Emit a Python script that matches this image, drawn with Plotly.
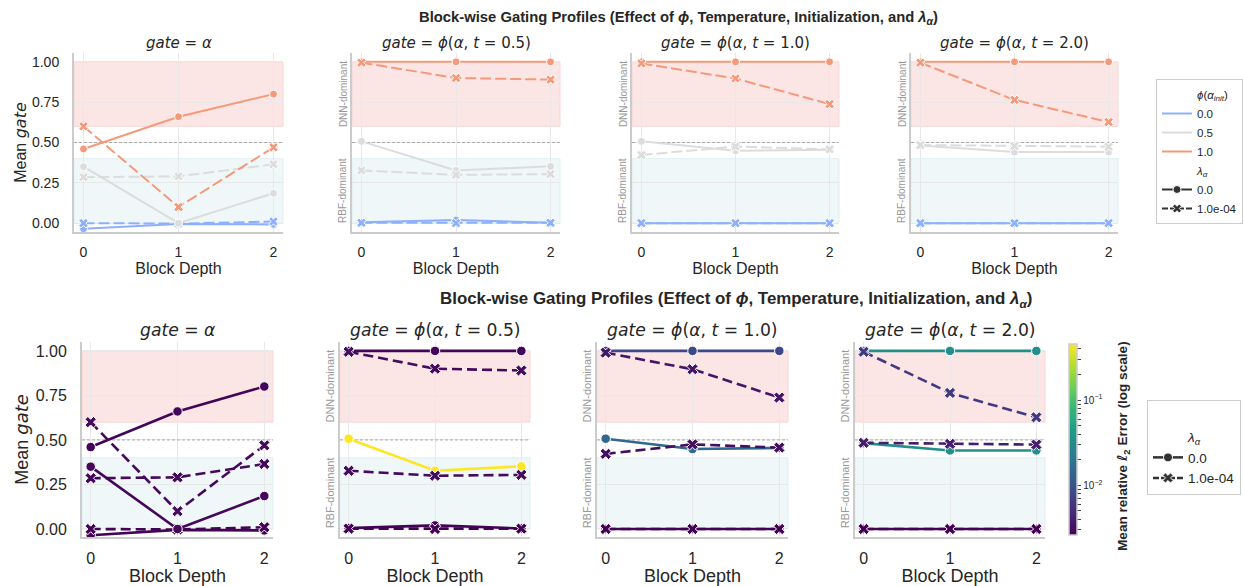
import numpy as np
import plotly.graph_objects as go
from plotly.colors import sample_colorscale

W, H = 1243, 586

# ---------------- data ----------------
depth = [0, 1, 2]
phi_init_labels = ["0.0", "0.5", "1.0"]
lambda_labels = ["0.0", "1.0e-04"]
panel_gates = ["α", "ϕ(α, t = 0.5)", "ϕ(α, t = 1.0)", "ϕ(α, t = 2.0)"]
y_ticks = [0, 0.25, 0.5, 0.75, 1.0]
gate_threshold = 0.5

# Mean gate per block depth; rows = φ(α_init) 0.0, 0.5, 1.0
gate_alpha_lam0 = [[-0.035, -0.005, -0.008], [0.35, 0.0, 0.185], [0.46, 0.66, 0.80]]
gate_alpha_lam1 = [[0.0, -0.003, 0.01], [0.285, 0.29, 0.365], [0.60, 0.10, 0.47]]
gate_t05_lam0 = [[0.005, 0.02, 0.003], [0.507, 0.327, 0.352], [1.0, 1.0, 1.0]]
gate_t05_lam1 = [[0.002, 0.0, 0.002], [0.327, 0.299, 0.304], [0.995, 0.90, 0.89]]
gate_t10_lam0 = [[0.0, 0.0, 0.0], [0.507, 0.449, 0.455], [1.0, 1.0, 1.0]]
gate_t10_lam1 = [[0.0, 0.0, 0.0], [0.422, 0.475, 0.457], [0.99, 0.897, 0.738]]
gate_t20_lam0 = [[0.0, 0.0, 0.0], [0.482, 0.441, 0.441], [1.0, 1.0, 1.0]]
gate_t20_lam1 = [[0.0, 0.0, 0.0], [0.484, 0.478, 0.474], [0.995, 0.764, 0.627]]

# Mean relative l2 error per line; order = φ(α_init) 0.0, 0.5, 1.0
err_alpha_lam0 = [0.0027, 0.0029, 0.0028]
err_alpha_lam1 = [0.0027, 0.0029, 0.0030]
err_t05_lam0 = [0.0027, 0.457, 0.0028]
err_t05_lam1 = [0.0026, 0.0030, 0.0030]
err_t10_lam0 = [0.0027, 0.0150, 0.0080]
err_t10_lam1 = [0.0026, 0.0032, 0.0035]
err_t20_lam0 = [0.0027, 0.033, 0.034]
err_t20_lam1 = [0.0026, 0.0039, 0.0062]

gates = [(gate_alpha_lam0, gate_alpha_lam1), (gate_t05_lam0, gate_t05_lam1),
         (gate_t10_lam0, gate_t10_lam1), (gate_t20_lam0, gate_t20_lam1)]
errs = [(err_alpha_lam0, err_alpha_lam1), (err_t05_lam0, err_t05_lam1),
        (err_t10_lam0, err_t10_lam1), (err_t20_lam0, err_t20_lam1)]

# ---------------- style ----------------
phi_colors = ["#8db0fe", "#dddcdc", "#f49a7b"]
TXT = "#262626"
SANS = "Liberation Sans, Arial, sans-serif"
MATH = "DejaVu Sans"
SPINE = "#cccccc"
GRID = "#e8e8e8"
X_RANGE = [-0.1, 2.1]

top_x = [(74, 283), (352, 560), (632, 839), (911, 1118)]
top_y = (53, 232)
bot_x = [(82, 273), (340, 530), (597, 788), (855, 1045)]
bot_y = (342, 537)

all_err = [e for pair in errs for lst in pair for e in lst]
lmin, lmax = np.log10(min(all_err)), np.log10(max(all_err))


def viridis(e):
    f = (np.log10(e) - lmin) / (lmax - lmin)
    return sample_colorscale("Viridis", [float(np.clip(f, 0, 1))])[0]


fig = go.Figure()

for row in range(2):
    lw = 2.0 if row == 0 else 2.6
    ms = 8 if row == 0 else 9.5
    dash = "11px,4px" if row == 0 else "10px,5px"
    for p in range(4):
        k = row * 4 + p + 1
        xa = "x" if k == 1 else f"x{k}"
        ya = "y" if k == 1 else f"y{k}"
        # 0.5 reference threshold line across the axis
        fig.add_trace(go.Scatter(
            x=X_RANGE, y=[gate_threshold] * 2, xaxis=xa, yaxis=ya, mode="lines",
            showlegend=False, hoverinfo="skip", cliponaxis=True,
            line=dict(color="#aaaaaa", width=1, dash="3px,2px"),
        ))
        for i in range(3):
            for j in range(2):
                col = phi_colors[i] if row == 0 else viridis(errs[p][j][i])
                fig.add_trace(go.Scatter(
                    x=depth, y=gates[p][j][i], xaxis=xa, yaxis=ya,
                    mode="lines+markers", showlegend=False, hoverinfo="skip",
                    line=dict(color=col, width=lw, dash="solid" if j == 0 else dash),
                    marker=dict(symbol="circle" if j == 0 else "x", size=ms if j == 0 else ms + 0.5,
                                color=col, line=dict(color="white", width=1)),
                ))

# colorbar carrier
fig.add_trace(go.Scatter(
    x=[None, None], y=[None, None], xaxis="x8", yaxis="y8", mode="markers",
    showlegend=False, hoverinfo="skip",
    marker=dict(color=[lmin, lmax], coloraxis="coloraxis"),
))

# ---------------- legends ----------------
def dummy(name, legend, color="rgba(0,0,0,0)", dash="solid", symbol=None, width=2, size=8):
    mode = "lines" if symbol is None else "lines+markers"
    fig.add_trace(go.Scatter(
        x=[None], y=[None], mode=mode, name=name, legend=legend, showlegend=True,
        line=dict(color=color, width=width, dash=dash),
        marker=dict(symbol=symbol or "circle", size=size, color=color,
                    line=dict(color="white", width=1)),
    ))

dummy("<i>ϕ</i>(<i>α<sub>init</sub></i>)", "legend")
for lab, c in zip(phi_init_labels, phi_colors):
    dummy(lab, "legend", color=c)
dummy("<i>λ<sub>α</sub></i>", "legend")
dummy(lambda_labels[0], "legend", color="#333333", symbol="circle")
dummy(lambda_labels[1], "legend", color="#333333", dash="6px,2px", symbol="x")

dummy("\u00a0", "legend2")
dummy("<i>λ<sub>α</sub></i>", "legend2")
dummy(lambda_labels[0], "legend2", color="#333333", symbol="circle", width=2.5, size=9)
dummy(lambda_labels[1], "legend2", color="#333333", dash="6px,2px", symbol="x", width=2.5, size=9)

# ---------------- axes, bands, annotations ----------------
layout = dict(
    width=W, height=H,
    margin=dict(l=0, r=0, t=0, b=0, autoexpand=False),
    paper_bgcolor="white", plot_bgcolor="white",
    font=dict(family=SANS, color=TXT),
    shapes=[], annotations=[],
)

for row in range(2):
    xs = top_x if row == 0 else bot_x
    ys = top_y if row == 0 else bot_y
    tick_fs = 14 if row == 0 else 16
    lab_fs = 16 if row == 0 else 18
    title_fs = 15 if row == 0 else 17.2
    side_fs = 10 if row == 0 else 11
    for p in range(4):
        k = row * 4 + p + 1
        sfx = "" if k == 1 else str(k)
        layout[f"xaxis{sfx}"] = dict(
            domain=[xs[p][0] / W, xs[p][1] / W], anchor=f"y{sfx}",
            range=X_RANGE, tickvals=depth, ticktext=[str(d) for d in depth],
            showgrid=True, gridcolor=GRID, gridwidth=1.2, zeroline=False,
            showline=True, linecolor=SPINE, linewidth=2, ticks="",
            tickfont=dict(size=tick_fs, color=TXT), ticklabelstandoff=6,
            title=dict(text="Block Depth", font=dict(size=lab_fs, color=TXT), standoff=1 if row == 0 else 8),
        )
        ya = dict(
            domain=[1 - ys[1] / H, 1 - ys[0] / H], anchor=f"x{sfx}",
            range=[-0.055, 1.055] if row == 0 else [-0.045, 1.05],
            tickvals=y_ticks,
            ticktext=[f"{v:.2f}" for v in y_ticks],
            showgrid=True, gridcolor=GRID, gridwidth=1.2, zeroline=False,
            showline=True, linecolor=SPINE, linewidth=2, ticks="",
            tickfont=dict(size=tick_fs, color=TXT), ticklabelstandoff=10,
            showticklabels=(p == 0),
        )
        if p == 0:
            ya["title"] = dict(
                text="Mean <span style='font-family:DejaVu Sans'><i>gate</i></span>",
                font=dict(size=lab_fs, color=TXT), standoff=1 if row == 0 else 2)
        layout[f"yaxis{sfx}"] = ya

        xd = f"x{sfx} domain"
        yr = f"y{sfx}"
        layout["shapes"] += [
            dict(type="rect", xref=xd, yref=yr, x0=0, x1=1, y0=0.6, y1=1.0,
                 fillcolor="#fbe6e5", line=dict(color="#f6d8d6", width=1), layer="below"),
            dict(type="rect", xref=xd, yref=yr, x0=0, x1=1, y0=0.0, y1=0.4,
                 fillcolor="#eff7f9", line=dict(color="#e2eff3", width=1), layer="below"),
        ]
        layout["annotations"].append(dict(
            xref=xd, yref=f"y{sfx} domain", x=0.5, y=1, yanchor="middle", xanchor="center",
            yshift=10 if row == 0 else 12, showarrow=False,
            text=f"<i>gate</i> = " + panel_gates[p].replace("ϕ", "<i>ϕ</i>").replace("α", "<i>α</i>").replace("t =", "<i>t</i> ="),
            font=dict(family=MATH, size=title_fs, color=TXT),
        ))
        if p > 0:
            for yv, txt in ((0.8, "DNN-dominant"), (0.2, "RBF-dominant")):
                layout["annotations"].append(dict(
                    xref=xd, yref=yr, x=0, y=yv, xanchor="center", yanchor="middle",
                    xshift=-9 if row == 0 else -10,
                    textangle=-90, showarrow=False, text=txt,
                    font=dict(size=side_fs, color="#999999"),
                ))

suptitle = "Block-wise Gating Profiles (Effect of <i>ϕ</i>, Temperature, Initialization, and <i>λ<sub>α</sub></i>)"
layout["annotations"] += [
    dict(xref="paper", yref="paper", x=678 / W, y=1 - 18 / H, xanchor="center", yanchor="middle",
         showarrow=False, text=f"<b>{suptitle}</b>", font=dict(size=14.8, color=TXT)),
    dict(xref="paper", yref="paper", x=735.5 / W, y=1 - 300 / H, xanchor="center", yanchor="middle",
         showarrow=False, text=f"<b>{suptitle}</b>", font=dict(size=16.9, color=TXT)),
    dict(xref="paper", yref="paper", x=1123 / W, y=1 - 446 / H, xanchor="center", yanchor="middle",
         textangle=-90, showarrow=False,
         text="<b>Mean relative <span style='font-family:DejaVu Sans'><i>ℓ</i></span><sub>2</sub> Error (log scale)</b>",
         font=dict(size=13.6, color=TXT)),
]

# colorbar ticks (log scale)
decades = range(int(np.floor(lmin)), int(np.ceil(lmax)) + 1)
tvals, ttext = [], []
for e in decades:
    for m in range(1, 10):
        lv = np.log10(m * 10.0 ** e)
        if lmin - 1e-9 <= lv <= lmax + 1e-9:
            tvals.append(float(lv))
            ttext.append(f"10<sup>−{-e}</sup>" if m == 1 else "")

layout["coloraxis"] = dict(
    colorscale="Viridis", cmin=float(lmin), cmax=float(lmax),
    colorbar=dict(
        x=1069 / W, xanchor="left", y=1 - 535 / H, yanchor="bottom",
        len=(535 - 344) / H, lenmode="fraction", thickness=8, xpad=0, ypad=0,
        outlinecolor="#cccccc", outlinewidth=1.5,
        ticks="outside", ticklen=4, tickcolor="#444444", tickwidth=1,
        tickvals=tvals, ticktext=ttext, tickfont=dict(size=10, color=TXT),
    ),
)

layout["legend"] = dict(
    x=1156 / W, xanchor="left", y=1 - 79 / H, yanchor="top",
    bgcolor="white", bordercolor="#cccccc", borderwidth=1,
    font=dict(size=11.5, color=TXT), tracegroupgap=0, traceorder="normal",
)
layout["legend2"] = dict(
    x=1147 / W, xanchor="left", y=1 - 400 / H, yanchor="top",
    bgcolor="white", bordercolor="#cccccc", borderwidth=1,
    font=dict(size=13.5, color=TXT), tracegroupgap=0, traceorder="normal",
)

fig.update_layout(**layout)
fig.write_html("out.html")
